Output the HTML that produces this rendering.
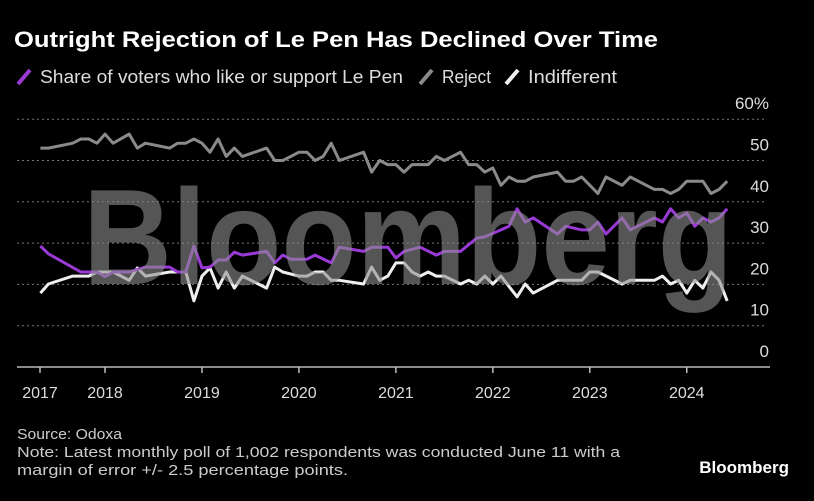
<!DOCTYPE html>
<html><head><meta charset="utf-8"><style>
body{margin:0;background:#000;width:814px;height:496px;overflow:hidden;font-family:"Liberation Sans",sans-serif}
</style></head><body>
<svg width="814" height="496" font-family="Liberation Sans, sans-serif">
<text x="14" y="47" fill="#fff" font-size="22" font-weight="bold" textLength="644" lengthAdjust="spacingAndGlyphs">Outright Rejection of Le Pen Has Declined Over Time</text>
<g font-size="18" fill="#ddd">
<line x1="18" y1="84" x2="30" y2="70" stroke="#9a3ad6" stroke-width="4"/>
<text x="40" y="83" textLength="363" lengthAdjust="spacingAndGlyphs">Share of voters who like or support Le Pen</text>
<line x1="420" y1="84" x2="432" y2="70" stroke="#8a8a8a" stroke-width="4"/>
<text x="442" y="83" textLength="49" lengthAdjust="spacingAndGlyphs">Reject</text>
<line x1="506" y1="84" x2="518" y2="70" stroke="#eee" stroke-width="4"/>
<text x="528" y="83" textLength="89" lengthAdjust="spacingAndGlyphs">Indifferent</text>
</g>
<g id="grid"></g><g id="axes"></g><g id="series"></g>
<text x="408" y="284" text-anchor="middle" font-size="136" font-weight="bold" fill="#8e8e8e" fill-opacity="0.6" textLength="650" lengthAdjust="spacingAndGlyphs">Bloomberg</text>
<g font-size="15" fill="#ccc">
<text x="17" y="439" textLength="105" lengthAdjust="spacingAndGlyphs">Source: Odoxa</text>
<text x="17" y="457" textLength="603" lengthAdjust="spacingAndGlyphs">Note: Latest monthly poll of 1,002 respondents was conducted June 11 with a</text>
<text x="17" y="475" textLength="331" lengthAdjust="spacingAndGlyphs">margin of error +/- 2.5 percentage points.</text>
</g>
<text x="789" y="473" text-anchor="end" font-size="17" font-weight="bold" fill="#fff">Bloomberg</text>
</svg>
<script>
const yTicks=[0,10,20,30,40,50,60];
const yTickLabels=["0","10","20","30","40","50","60%"];
const yearTicks=[-8,0,12,24,36,48,60,72];
const yearLabels=["2017","2018","2019","2020","2021","2022","2023","2024"];
const rejectMonths=[-8,-7,-4,-3,-2,-1,0,1,3,4,5,8,9,10,11,12,13,14,15,16,17,20,21,22,23,24,25,26,27,28,29,32,33,34,35,36,37,38,40,41,42,44,45,46,47,48,49,50,51,52,53,56,57,58,59,61,62,64,65,68,69,70,71,72,74,75,76,77];
const rejectValues=[53,53,54.2,55.2,55.2,54.2,56.4,54.2,56.4,53,54.2,53,54.2,54.2,55.2,54.2,52,55.2,51,53,51,53,50,50,51,52,52,50,51,54.2,50,52,47.2,50,49,49,47.2,49,49,51,50,52,49,49,47.2,48.2,44,46,45,45,46,47.2,45,45,46,42,46,44,46,43,43,42,43,45,45,42,43,45];
const supportMonths=[-8,-7,-3,-1,0,1,3,5,8,9,10,11,12,13,14,15,16,17,20,21,22,23,25,26,28,29,32,33,35,36,37,39,41,42,44,46,47,49,50,51,52,53,56,57,59,60,61,62,64,65,68,69,70,71,72,73,74,75,76,77];
const supportValues=[29.3,27.4,23,23,21.9,23,23,24.2,24.2,23,23,29.3,24,24.2,25.9,25.9,27.8,27.1,28,25.2,27.1,26.1,26.1,27.1,25.2,29,28,29,29,26.4,28,29,27.1,28,28,31.2,31.5,33.2,34.1,38.3,35.1,36.1,32.2,34.1,33.2,33.2,35.1,32.2,36.1,33.2,36.1,35.1,38.3,36.1,37.3,34.1,36.1,35.1,36.1,38.3];
const indiffMonths=[-8,-7,-4,-2,-1,1,3,4,5,8,9,10,11,12,13,14,15,16,17,20,21,22,24,25,26,27,28,29,32,33,34,35,36,37,38,39,40,41,42,44,45,46,47,48,49,51,52,53,56,59,60,61,64,65,68,69,70,71,72,73,74,75,76,77];
const indiffValues=[17.9,20.1,22,22,23,23,21,24,22,23,23,23,16,22,24,19.1,23,19.1,22,19.1,24.2,23,22,22,23,23,21,21,20.1,24.2,21,22,25.2,25.2,23,22,23,22,22,20.1,21,20.1,22,20.1,22,17,20.1,17.9,21,21,23,23,20.1,21,21,22,20.1,21,17.9,21,19.1,23,21,16];
const NS="http://www.w3.org/2000/svg";
const xs=m=>105+m*8.08, ys=v=>367-v*4.13;
function mk(t,a,p){const e=document.createElementNS(NS,t);for(const k in a)e.setAttribute(k,a[k]);document.getElementById(p).appendChild(e);return e;}
yTicks.forEach((t,i)=>{
 if(t>0){const l=mk('line',{x1:17,x2:764,y1:ys(t),y2:ys(t),stroke:'#777','stroke-width':1,'stroke-dasharray':'2,3'},'grid');
 
 }
 const tx=mk('text',{x:769,y:ys(t)-10,'text-anchor':'end','font-size':17,fill:'#ddd'},'axes');tx.textContent=yTickLabels[i];
 
 
});
const ax=mk('line',{x1:17,x2:770,y1:367,y2:367,stroke:'#bbb','stroke-width':1.5},'axes');


yearTicks.forEach((m,i)=>{
 const x=m===-8?40:xs(m);
 const tk=mk('line',{x1:x,x2:x,y1:367,y2:373,stroke:'#bbb','stroke-width':1.5},'axes');
 
 
 const tx=mk('text',{x:x,y:398,'text-anchor':'middle','font-size':16,fill:'#ddd'},'axes');tx.textContent=yearLabels[i];
 
 
});
function line(ms,vs,c,name){
 const d=ms.map((m,i)=>(i?'L':'M')+xs(m).toFixed(1)+','+ys(vs[i]).toFixed(1)).join('');
 const p=mk('path',{d:d,fill:'none',stroke:c,'stroke-width':3,'stroke-linejoin':'round'},'series');
 
 
}
line(rejectMonths,rejectValues,'#8a8a8a','reject-line');
line(indiffMonths,indiffValues,'#eeeeee','indifferent-line');
line(supportMonths,supportValues,'#9a3ad6','support-line');
</script>
</body></html>
